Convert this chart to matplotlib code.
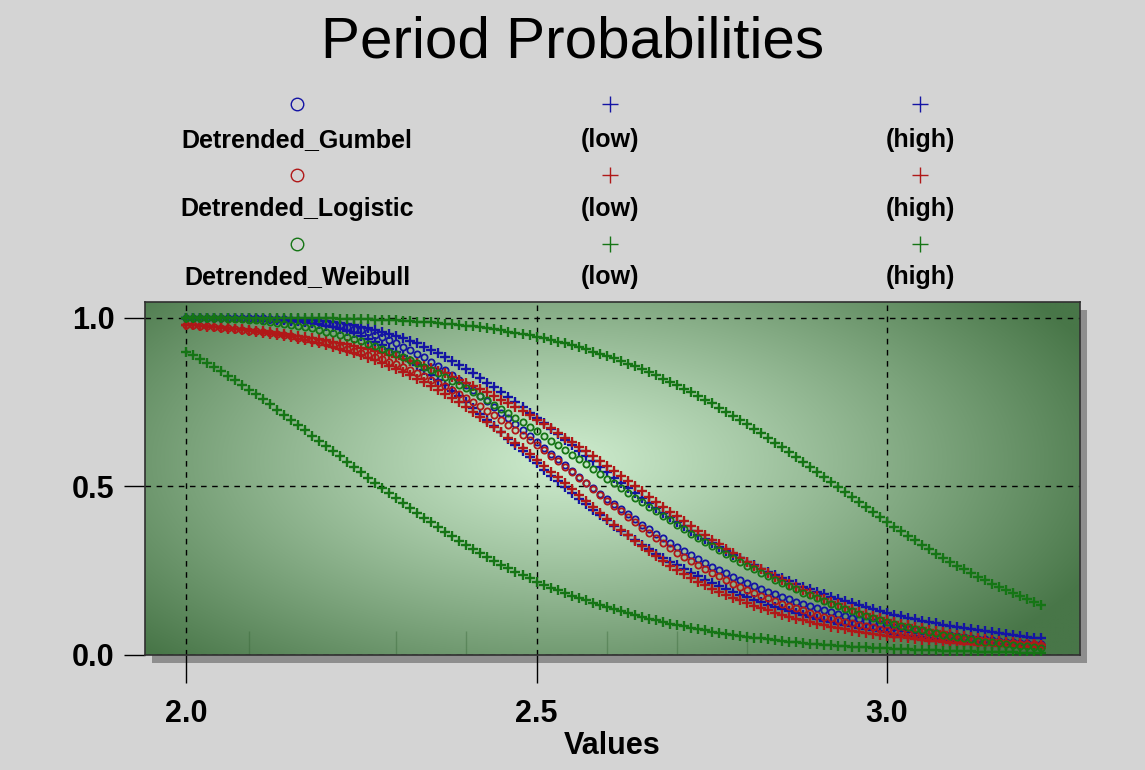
import numpy as np
import matplotlib
matplotlib.use('Agg')
import matplotlib.pyplot as plt
from matplotlib.lines import Line2D
from matplotlib.patches import Rectangle

plt.rcParams['font.family'] = ['Liberation Sans', 'DejaVu Sans']

# ---------------- data ----------------
x_values = [2.00, 2.01, 2.02, 2.03, 2.04, 2.05, 2.06, 2.07, 2.08, 2.09, 2.10, 2.11, 2.12, 2.13, 2.14, 2.15, 2.16, 2.17, 2.18, 2.19,
            2.20, 2.21, 2.22, 2.23, 2.24, 2.25, 2.26, 2.27, 2.28, 2.29, 2.30, 2.31, 2.32, 2.33, 2.34, 2.35, 2.36, 2.37, 2.38, 2.39,
            2.40, 2.41, 2.42, 2.43, 2.44, 2.45, 2.46, 2.47, 2.48, 2.49, 2.50, 2.51, 2.52, 2.53, 2.54, 2.55, 2.56, 2.57, 2.58, 2.59,
            2.60, 2.61, 2.62, 2.63, 2.64, 2.65, 2.66, 2.67, 2.68, 2.69, 2.70, 2.71, 2.72, 2.73, 2.74, 2.75, 2.76, 2.77, 2.78, 2.79,
            2.80, 2.81, 2.82, 2.83, 2.84, 2.85, 2.86, 2.87, 2.88, 2.89, 2.90, 2.91, 2.92, 2.93, 2.94, 2.95, 2.96, 2.97, 2.98, 2.99,
            3.00, 3.01, 3.02, 3.03, 3.04, 3.05, 3.06, 3.07, 3.08, 3.09, 3.10, 3.11, 3.12, 3.13, 3.14, 3.15, 3.16, 3.17, 3.18, 3.19,
            3.20, 3.21, 3.22]

gumbel_main = [1.000, 1.000, 1.000, 1.000, 1.000, 1.000, 1.000, 1.000, 0.999, 0.999, 0.999, 0.999, 0.998, 0.997, 0.996, 0.995, 0.994, 0.992, 0.990, 0.988,
               0.985, 0.982, 0.978, 0.973, 0.968, 0.963, 0.957, 0.950, 0.942, 0.934, 0.925, 0.915, 0.905, 0.894, 0.883, 0.870, 0.857, 0.844, 0.830, 0.815,
               0.800, 0.785, 0.769, 0.753, 0.736, 0.719, 0.702, 0.685, 0.667, 0.650, 0.632, 0.615, 0.597, 0.580, 0.563, 0.545, 0.528, 0.511, 0.495, 0.479,
               0.463, 0.447, 0.432, 0.417, 0.402, 0.387, 0.373, 0.359, 0.346, 0.333, 0.320, 0.308, 0.296, 0.284, 0.273, 0.262, 0.252, 0.242, 0.232, 0.222,
               0.213, 0.204, 0.196, 0.188, 0.180, 0.172, 0.165, 0.158, 0.151, 0.144, 0.138, 0.132, 0.127, 0.121, 0.116, 0.111, 0.106, 0.101, 0.097, 0.092,
               0.088, 0.084, 0.081, 0.077, 0.074, 0.070, 0.067, 0.064, 0.061, 0.058, 0.056, 0.053, 0.051, 0.048, 0.046, 0.044, 0.042, 0.040, 0.038, 0.036,
               0.035, 0.033, 0.032]
gumbel_low = [1.000, 1.000, 1.000, 1.000, 1.000, 1.000, 0.999, 0.999, 0.999, 0.999, 0.998, 0.997, 0.996, 0.995, 0.994, 0.992, 0.990, 0.987, 0.984, 0.981,
              0.977, 0.972, 0.967, 0.961, 0.954, 0.946, 0.938, 0.929, 0.920, 0.909, 0.898, 0.886, 0.873, 0.860, 0.846, 0.831, 0.816, 0.800, 0.784, 0.767,
              0.749, 0.732, 0.714, 0.696, 0.678, 0.660, 0.641, 0.623, 0.605, 0.587, 0.568, 0.550, 0.532, 0.515, 0.497, 0.480, 0.463, 0.447, 0.430, 0.415,
              0.399, 0.384, 0.369, 0.355, 0.341, 0.327, 0.314, 0.301, 0.289, 0.277, 0.266, 0.255, 0.244, 0.233, 0.223, 0.214, 0.205, 0.196, 0.187, 0.179,
              0.171, 0.163, 0.156, 0.149, 0.142, 0.136, 0.130, 0.124, 0.118, 0.112, 0.107, 0.102, 0.098, 0.093, 0.089, 0.085, 0.081, 0.077, 0.073, 0.070,
              0.067, 0.063, 0.060, 0.057, 0.055, 0.052, 0.050, 0.047, 0.045, 0.043, 0.041, 0.039, 0.037, 0.035, 0.034, 0.032, 0.031, 0.029, 0.028, 0.026,
              0.025, 0.024, 0.023]
gumbel_high = [1.000, 1.000, 1.000, 1.000, 1.000, 1.000, 1.000, 1.000, 1.000, 1.000, 0.999, 0.999, 0.998, 0.998, 0.997, 0.997, 0.996, 0.995, 0.993, 0.992,
               0.990, 0.988, 0.985, 0.982, 0.978, 0.974, 0.970, 0.965, 0.959, 0.953, 0.947, 0.940, 0.932, 0.924, 0.915, 0.905, 0.895, 0.884, 0.873, 0.861,
               0.849, 0.836, 0.822, 0.808, 0.794, 0.780, 0.765, 0.750, 0.735, 0.719, 0.703, 0.687, 0.671, 0.655, 0.639, 0.623, 0.606, 0.590, 0.574, 0.558,
               0.542, 0.526, 0.511, 0.496, 0.481, 0.466, 0.451, 0.436, 0.422, 0.408, 0.395, 0.382, 0.369, 0.356, 0.344, 0.332, 0.320, 0.309, 0.298, 0.287,
               0.276, 0.266, 0.256, 0.246, 0.237, 0.228, 0.220, 0.211, 0.203, 0.195, 0.188, 0.180, 0.173, 0.166, 0.160, 0.154, 0.148, 0.142, 0.136, 0.130,
               0.125, 0.120, 0.115, 0.110, 0.106, 0.102, 0.098, 0.094, 0.090, 0.086, 0.082, 0.079, 0.076, 0.073, 0.070, 0.067, 0.064, 0.061, 0.059, 0.056,
               0.054, 0.051, 0.049]

logistic_main = [0.979, 0.978, 0.976, 0.975, 0.973, 0.971, 0.969, 0.967, 0.964, 0.962, 0.960, 0.957, 0.954, 0.951, 0.948, 0.945, 0.941, 0.937, 0.933, 0.929,
                 0.924, 0.919, 0.914, 0.909, 0.903, 0.897, 0.891, 0.884, 0.877, 0.870, 0.862, 0.854, 0.846, 0.837, 0.827, 0.817, 0.807, 0.797, 0.786, 0.775,
                 0.763, 0.751, 0.738, 0.725, 0.711, 0.697, 0.683, 0.668, 0.653, 0.638, 0.623, 0.607, 0.591, 0.575, 0.558, 0.542, 0.525, 0.509, 0.492, 0.475,
                 0.458, 0.442, 0.426, 0.410, 0.393, 0.377, 0.362, 0.347, 0.332, 0.317, 0.303, 0.290, 0.278, 0.266, 0.255, 0.244, 0.233, 0.222, 0.212, 0.202,
                 0.193, 0.184, 0.176, 0.168, 0.160, 0.152, 0.145, 0.138, 0.132, 0.126, 0.120, 0.114, 0.109, 0.104, 0.099, 0.094, 0.090, 0.086, 0.082, 0.078,
                 0.075, 0.071, 0.068, 0.065, 0.062, 0.059, 0.057, 0.054, 0.052, 0.050, 0.048, 0.046, 0.044, 0.042, 0.041, 0.039, 0.038, 0.036, 0.035, 0.034,
                 0.033, 0.032, 0.031]
logistic_low = [0.979, 0.978, 0.976, 0.974, 0.972, 0.970, 0.968, 0.966, 0.964, 0.961, 0.958, 0.955, 0.952, 0.949, 0.945, 0.942, 0.938, 0.934, 0.929, 0.924,
                0.919, 0.914, 0.908, 0.902, 0.896, 0.889, 0.882, 0.874, 0.866, 0.858, 0.849, 0.840, 0.830, 0.820, 0.809, 0.798, 0.786, 0.774, 0.762, 0.749,
                0.735, 0.721, 0.707, 0.692, 0.677, 0.661, 0.645, 0.629, 0.613, 0.596, 0.579, 0.562, 0.544, 0.527, 0.509, 0.492, 0.474, 0.457, 0.439, 0.421,
                0.404, 0.387, 0.371, 0.355, 0.339, 0.323, 0.308, 0.293, 0.279, 0.265, 0.251, 0.239, 0.228, 0.217, 0.207, 0.197, 0.188, 0.179, 0.170, 0.162,
                0.154, 0.146, 0.139, 0.132, 0.126, 0.120, 0.114, 0.108, 0.103, 0.098, 0.093, 0.088, 0.084, 0.080, 0.076, 0.072, 0.069, 0.066, 0.063, 0.060,
                0.057, 0.054, 0.052, 0.049, 0.047, 0.045, 0.043, 0.041, 0.039, 0.037, 0.036, 0.034, 0.033, 0.031, 0.030, 0.029, 0.028, 0.027, 0.026, 0.025,
                0.024, 0.023, 0.022]
logistic_high = [0.979, 0.978, 0.976, 0.975, 0.973, 0.972, 0.970, 0.968, 0.966, 0.964, 0.962, 0.960, 0.958, 0.955, 0.952, 0.950, 0.947, 0.944, 0.940, 0.937,
                 0.933, 0.929, 0.925, 0.921, 0.916, 0.912, 0.907, 0.902, 0.896, 0.891, 0.885, 0.879, 0.872, 0.865, 0.858, 0.851, 0.843, 0.835, 0.826, 0.817,
                 0.808, 0.799, 0.789, 0.779, 0.768, 0.757, 0.746, 0.735, 0.723, 0.711, 0.698, 0.685, 0.672, 0.659, 0.645, 0.632, 0.618, 0.604, 0.589, 0.575,
                 0.560, 0.545, 0.530, 0.515, 0.500, 0.485, 0.470, 0.455, 0.440, 0.425, 0.411, 0.397, 0.383, 0.369, 0.355, 0.341, 0.328, 0.315, 0.302, 0.289,
                 0.277, 0.265, 0.254, 0.243, 0.232, 0.221, 0.211, 0.201, 0.192, 0.183, 0.174, 0.166, 0.158, 0.150, 0.142, 0.135, 0.128, 0.122, 0.116, 0.110,
                 0.104, 0.098, 0.093, 0.088, 0.084, 0.079, 0.075, 0.071, 0.067, 0.063, 0.060, 0.057, 0.054, 0.051, 0.048, 0.045, 0.043, 0.040, 0.038, 0.036,
                 0.034, 0.032, 0.030]

weibull_main = [1.000, 1.000, 1.000, 1.000, 0.999, 0.999, 0.998, 0.997, 0.996, 0.995, 0.993, 0.991, 0.989, 0.986, 0.983, 0.980, 0.977, 0.973, 0.969, 0.964,
                0.959, 0.954, 0.949, 0.943, 0.937, 0.930, 0.923, 0.916, 0.908, 0.900, 0.892, 0.883, 0.874, 0.865, 0.855, 0.845, 0.835, 0.824, 0.813, 0.802,
                0.791, 0.779, 0.767, 0.755, 0.742, 0.730, 0.717, 0.704, 0.690, 0.677, 0.663, 0.650, 0.636, 0.622, 0.608, 0.594, 0.580, 0.566, 0.552, 0.538,
                0.523, 0.509, 0.495, 0.481, 0.467, 0.454, 0.440, 0.427, 0.413, 0.400, 0.386, 0.373, 0.360, 0.348, 0.335, 0.323, 0.311, 0.299, 0.287, 0.276,
                0.265, 0.254, 0.243, 0.233, 0.223, 0.214, 0.204, 0.195, 0.185, 0.177, 0.168, 0.160, 0.152, 0.145, 0.137, 0.130, 0.123, 0.117, 0.110, 0.104,
                0.098, 0.093, 0.087, 0.082, 0.077, 0.073, 0.068, 0.064, 0.060, 0.057, 0.053, 0.050, 0.046, 0.043, 0.040, 0.038, 0.035, 0.033, 0.030, 0.028,
                0.026, 0.024, 0.022]
weibull_low = [0.900, 0.889, 0.878, 0.866, 0.853, 0.841, 0.828, 0.815, 0.801, 0.787, 0.773, 0.758, 0.743, 0.728, 0.713, 0.698, 0.683, 0.667, 0.651, 0.636,
               0.620, 0.605, 0.589, 0.573, 0.557, 0.542, 0.526, 0.511, 0.496, 0.480, 0.465, 0.450, 0.436, 0.421, 0.407, 0.393, 0.379, 0.365, 0.352, 0.339,
               0.327, 0.314, 0.302, 0.290, 0.279, 0.268, 0.257, 0.247, 0.237, 0.227, 0.218, 0.209, 0.200, 0.192, 0.184, 0.176, 0.169, 0.162, 0.155, 0.148,
               0.142, 0.136, 0.130, 0.124, 0.119, 0.113, 0.108, 0.103, 0.098, 0.093, 0.089, 0.085, 0.081, 0.077, 0.073, 0.069, 0.066, 0.063, 0.060, 0.057,
               0.054, 0.051, 0.049, 0.046, 0.044, 0.042, 0.040, 0.038, 0.036, 0.034, 0.032, 0.030, 0.029, 0.027, 0.026, 0.025, 0.024, 0.023, 0.022, 0.021,
               0.020, 0.019, 0.018, 0.017, 0.016, 0.015, 0.015, 0.014, 0.013, 0.012, 0.012, 0.011, 0.011, 0.010, 0.010, 0.009, 0.009, 0.008, 0.008, 0.007,
               0.007, 0.006, 0.006]
weibull_high = [1.000, 1.000, 1.000, 1.000, 1.000, 1.000, 1.000, 1.000, 1.000, 1.000, 1.000, 1.000, 1.000, 1.000, 1.000, 1.000, 0.999, 0.999, 0.999, 0.999,
                0.999, 0.999, 0.998, 0.998, 0.997, 0.997, 0.996, 0.995, 0.994, 0.994, 0.993, 0.992, 0.990, 0.989, 0.988, 0.987, 0.985, 0.983, 0.981, 0.979,
                0.977, 0.975, 0.972, 0.969, 0.966, 0.963, 0.959, 0.956, 0.952, 0.948, 0.944, 0.939, 0.934, 0.929, 0.924, 0.919, 0.913, 0.907, 0.900, 0.894,
                0.887, 0.880, 0.872, 0.864, 0.856, 0.847, 0.838, 0.829, 0.820, 0.810, 0.800, 0.790, 0.779, 0.768, 0.757, 0.746, 0.734, 0.722, 0.709, 0.697,
                0.684, 0.671, 0.657, 0.644, 0.630, 0.616, 0.602, 0.588, 0.573, 0.559, 0.544, 0.529, 0.514, 0.499, 0.484, 0.469, 0.454, 0.440, 0.425, 0.410,
                0.395, 0.381, 0.367, 0.353, 0.340, 0.327, 0.314, 0.301, 0.289, 0.277, 0.265, 0.254, 0.243, 0.232, 0.222, 0.212, 0.202, 0.192, 0.183, 0.174,
                0.165, 0.156, 0.148]

rug_x = [2.09, 2.30, 2.40, 2.60, 2.70, 2.80]

distributions = ['Detrended_Gumbel', 'Detrended_Logistic', 'Detrended_Weibull']
band_labels = ['(low)', '(high)']
x_ticks = [2.0, 2.5, 3.0]
x_tick_labels = ['2.0', '2.5', '3.0']
y_ticks = [0.0, 0.5, 1.0]
y_tick_labels = ['0.0', '0.5', '1.0']
title = 'Period Probabilities'
x_label = 'Values'

# ---------------- style ----------------
BLUE = '#1414a4'
RED = '#b01818'
GREEN = '#157515'
colors = [BLUE, RED, GREEN]
series = [(gumbel_main, gumbel_low, gumbel_high),
          (logistic_main, logistic_low, logistic_high),
          (weibull_main, weibull_low, weibull_high)]

W, H = 1145, 770
fig = plt.figure(figsize=(W / 100, H / 100), dpi=100, facecolor='#d4d4d4')
L, R, T, B = 145, 1080, 302, 655
ax = fig.add_axes([L / W, 1 - B / H, (R - L) / W, (B - T) / H])

# drop shadow
fig.add_artist(Rectangle(((L + 7) / W, 1 - (B + 8) / H), (R - L) / W, (B - T) / H,
                         transform=fig.transFigure, facecolor='#8e8e8e',
                         edgecolor='none', zorder=-1))

# radial green gradient background
nx, ny = 400, 200
gx, gy = np.meshgrid(np.linspace(0, 1, nx), np.linspace(0, 1, ny))
r = np.sqrt(((gx - 0.45) / 0.62) ** 2 + ((gy - 0.55) / 0.78) ** 2)
t = np.clip(r, 0, 1) ** 1.1
c0 = np.array([205, 235, 205]) / 255.0
c1 = np.array([72, 118, 72]) / 255.0
img = c0 + (c1 - c0) * t[..., None]
ax.imshow(img, extent=[0, 1, 0, 1], transform=ax.transAxes, origin='lower',
          aspect='auto', zorder=0, interpolation='bilinear')

ax.set_xlim(1.941, 3.276)
ax.set_ylim(0.0, 1.047)

# rug marks
ax.vlines(rug_x, 0, 0.07, colors='#2f5f2f', linewidth=1, alpha=0.35, zorder=1)

# grid
ax.grid(True, color='black', linestyle=(0, (4, 4)), linewidth=1, zorder=1)
ax.set_axisbelow(True)

# data
for (main, low, high), c in zip(series, colors):
    ax.plot(x_values, low, ls='none', marker='+', ms=6.5, mec=c, mew=1.7, zorder=3)
    ax.plot(x_values, high, ls='none', marker='+', ms=6.5, mec=c, mew=1.7, zorder=3)
    ax.plot(x_values, main, ls='none', marker='o', ms=4.5, mfc='none', mec=c,
            mew=1.3, zorder=3)

# axes styling
for s in ax.spines.values():
    s.set_color('#303030')
    s.set_linewidth(1.2)
ax.set_xticks(x_ticks)
ax.set_xticklabels(x_tick_labels, fontsize=22, fontweight='bold')
ax.set_yticks(y_ticks)
ax.set_yticklabels(y_tick_labels, fontsize=22, fontweight='bold')
ax.tick_params(axis='x', length=20, width=1, pad=12, color='black')
ax.tick_params(axis='y', length=15, width=1, pad=7, color='black')

fig.text(0.5, 1 - 42 / H, title, fontsize=42, ha='center', va='center')
fig.text((L + R) / 2 / W, 1 - 746 / H, x_label, fontsize=22, fontweight='bold',
         ha='center', va='center')

# legend (3 rows x 3 columns, marker above text)
col_x = [297, 610, 920]
marker_y = [104, 175, 244]
text_y = [140, 209, 277]
for i, (name, c) in enumerate(zip(distributions, colors)):
    labels = [name] + band_labels
    markers = ['o', '+', '+']
    for j in range(3):
        if markers[j] == 'o':
            fig.add_artist(Line2D([col_x[j] / W], [1 - marker_y[i] / H],
                                  transform=fig.transFigure, marker='o', ms=9,
                                  mfc='none', mec=c, mew=1.0, ls='none'))
        else:
            fig.add_artist(Line2D([col_x[j] / W], [1 - marker_y[i] / H],
                                  transform=fig.transFigure, marker='+', ms=11,
                                  mec=c, mew=1.0, ls='none'))
        fig.text(col_x[j] / W, 1 - text_y[i] / H, labels[j], fontsize=18,
                 fontweight='bold', ha='center', va='center')

fig.savefig('out.png', dpi=100, facecolor=fig.get_facecolor())
